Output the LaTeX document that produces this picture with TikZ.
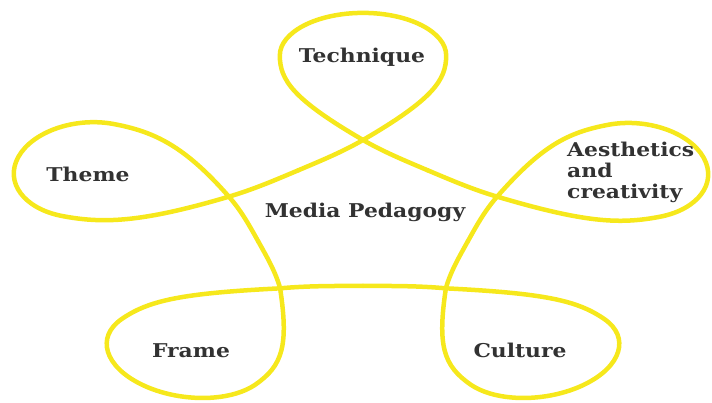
\documentclass[tikz,border=0pt]{standalone}
\usepackage{fontspec}
\setmainfont{DejaVu Serif}[FakeStretch=1.15]
\definecolor{ribbon}{RGB}{246,232,28}
\definecolor{ink}{RGB}{50,50,50}
\begin{document}
\begin{tikzpicture}[x=1pt,y=1pt,
  loopline/.style={ribbon,line width=4.5pt,line cap=round,line join=round},
  lbl/.style={text=ink,font=\bfseries\fontsize{19}{21}\selectfont,align=left,inner sep=0pt}]
\useasboundingbox (0,0) rectangle (712,403);
% the ribbon: five loops round a stretched pentagon
\begin{scope}[shift={(363,181)},xscale=141,yscale=82]
\foreach \k/\tip/\wd/\tw in {0/2.55/0.59/0,1/2.54/0.59/0,2/2.53/0.62/4,3/2.53/0.62/-4,4/2.57/0.59/0}
{
	% the two half edges meeting in the crossing
	\draw[loopline,rotate=-72*\k] (-0.458,0.631)
		.. controls (-0.296,0.749) and (-0.141,0.859) .. (0,1)
		.. controls (0.141,0.859) and (0.296,0.749) .. (0.458,0.631);
	% the loop
	\draw[loopline,rotate=-72*\k,rotate around={\tw:(0,1)}] (0,1)
		.. controls (0.495,1.495) and (\wd,{\tip-0.82}) .. (\wd,{\tip-0.52})
		.. controls (\wd,{\tip-0.233}) and ({0.552*\wd},\tip) .. (0,\tip)
		.. controls ({-0.552*\wd},\tip) and (-\wd,{\tip-0.233}) .. (-\wd,{\tip-0.52})
		.. controls (-\wd,{\tip-0.82}) and (-0.495,1.495) .. (0,1);
}
\end{scope}
\node[lbl,anchor=base] (technique) at (362,340) {Technique};
\node[lbl,anchor=base] (theme) at (88,221) {Theme};
\node[lbl,anchor=west] (aesthetics) at (567,231) {Aesthetics\\and\\creativity};
\node[lbl,anchor=base] (media) at (365,185) {Media Pedagogy};
\node[lbl,anchor=base] (frame) at (191,45) {Frame};
\node[lbl,anchor=base] (culture) at (520,45) {Culture};
\end{tikzpicture}
\end{document}
